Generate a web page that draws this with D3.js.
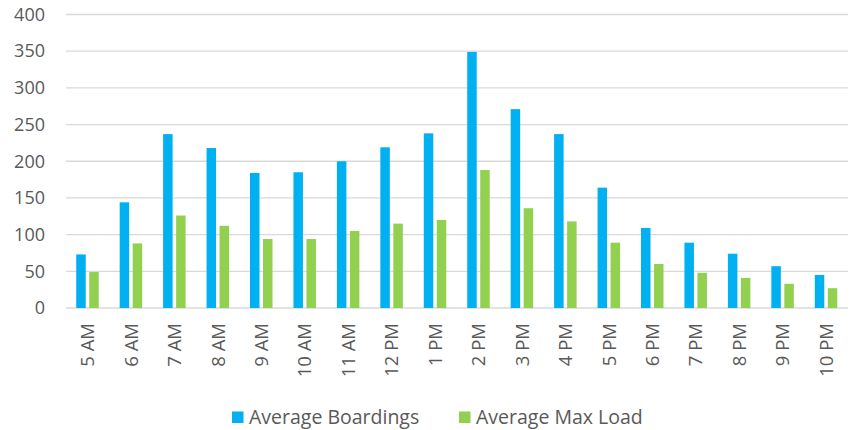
<!DOCTYPE html>
<html>
<head>
<meta charset="utf-8">
<script src="https://cdn.jsdelivr.net/npm/d3@7"></script>
<style>
  body { margin: 0; background: #fff; }
  text { font-family: "Open Sans", sans-serif; fill: #595959; }
</style>
</head>
<body>
<svg></svg>
<script>
// chart data
let hours = ['5 AM', '6 AM', '7 AM', '8 AM', '9 AM', '10 AM', '11 AM', '12 PM', '1 PM',
             '2 PM', '3 PM', '4 PM', '5 PM', '6 PM', '7 PM', '8 PM', '9 PM', '10 PM']
let boardings = [73, 144, 237, 218, 184, 185, 200, 219, 238, 349, 271, 237, 164, 109, 89, 74, 57, 45]
let maxLoad = [49, 88, 126, 112, 94, 94, 105, 115, 120, 188, 136, 118, 89, 60, 48, 41, 33, 27]
let seriesNames = ['Average Boardings', 'Average Max Load']
let yTicks = [0, 50, 100, 150, 200, 250, 300, 350, 400]

let width = 858
let height = 430
let plotLeft = 66
let plotRight = 848
let plotTop = 14.5
let plotBottom = 308

let colors = ['#00b0f0', '#92d050']

let svg = d3.select('svg')
    .attr('width', width)
    .attr('height', height)

let xScale = d3.scaleBand()
    .domain(hours)
    .range([plotLeft, plotRight])

let yScale = d3.scaleLinear()
    .domain([0, 400])
    .range([plotBottom, plotTop])

// grid lines
svg.append('g')
    .selectAll('line')
    .data(yTicks)
    .enter()
    .append('line')
    .attr('x1', plotLeft)
    .attr('x2', plotRight)
    .attr('y1', d => yScale(d))
    .attr('y2', d => yScale(d))
    .attr('stroke', '#d9d9d9')
    .attr('stroke-width', 1.3)

// y axis
let yAxis = d3.axisLeft(yScale).tickValues(yTicks).tickSize(0).tickPadding(0)
svg.append('g')
    .attr('transform', 'translate(45,0)')
    .call(yAxis)
    .call(g => g.select('.domain').remove())
    .selectAll('text')
    .style('font-size', '18px')
    .attr('fill', '#595959')

// bars
let barW = 9.5
let offsets = [-11.5, 1.5]
let series = [boardings, maxLoad]
series.forEach((vals, s) => {
    svg.append('g')
        .selectAll('rect')
        .data(vals)
        .enter()
        .append('rect')
        .attr('x', (d, i) => xScale(hours[i]) + xScale.bandwidth() / 2 + offsets[s])
        .attr('y', d => yScale(d))
        .attr('width', barW)
        .attr('height', d => yScale(0) - yScale(d))
        .attr('fill', colors[s])
})

// x axis labels (rotated)
let xAxis = d3.axisBottom(xScale).tickSize(0).tickPadding(0)
svg.append('g')
    .attr('transform', 'translate(0,' + plotBottom + ')')
    .call(xAxis)
    .call(g => g.select('.domain').remove())
    .selectAll('text')
    .style('font-size', '18.5px')
    .attr('fill', '#595959')
    .attr('transform', 'rotate(-90)')
    .attr('text-anchor', 'end')
    .attr('x', -15)
    .attr('y', 0)
    .attr('dy', '0.35em')

// legend
let legendX = [232, 459]
let legend = svg.append('g')
seriesNames.forEach((name, s) => {
    legend.append('rect')
        .attr('x', legendX[s])
        .attr('y', 411.5)
        .attr('width', 11.5)
        .attr('height', 11.5)
        .attr('fill', colors[s])
    legend.append('text')
        .attr('x', legendX[s] + 17)
        .attr('y', 417.5)
        .attr('dy', '0.35em')
        .style('font-size', '19.5px')
        .text(name)
})
</script>
</body>
</html>
